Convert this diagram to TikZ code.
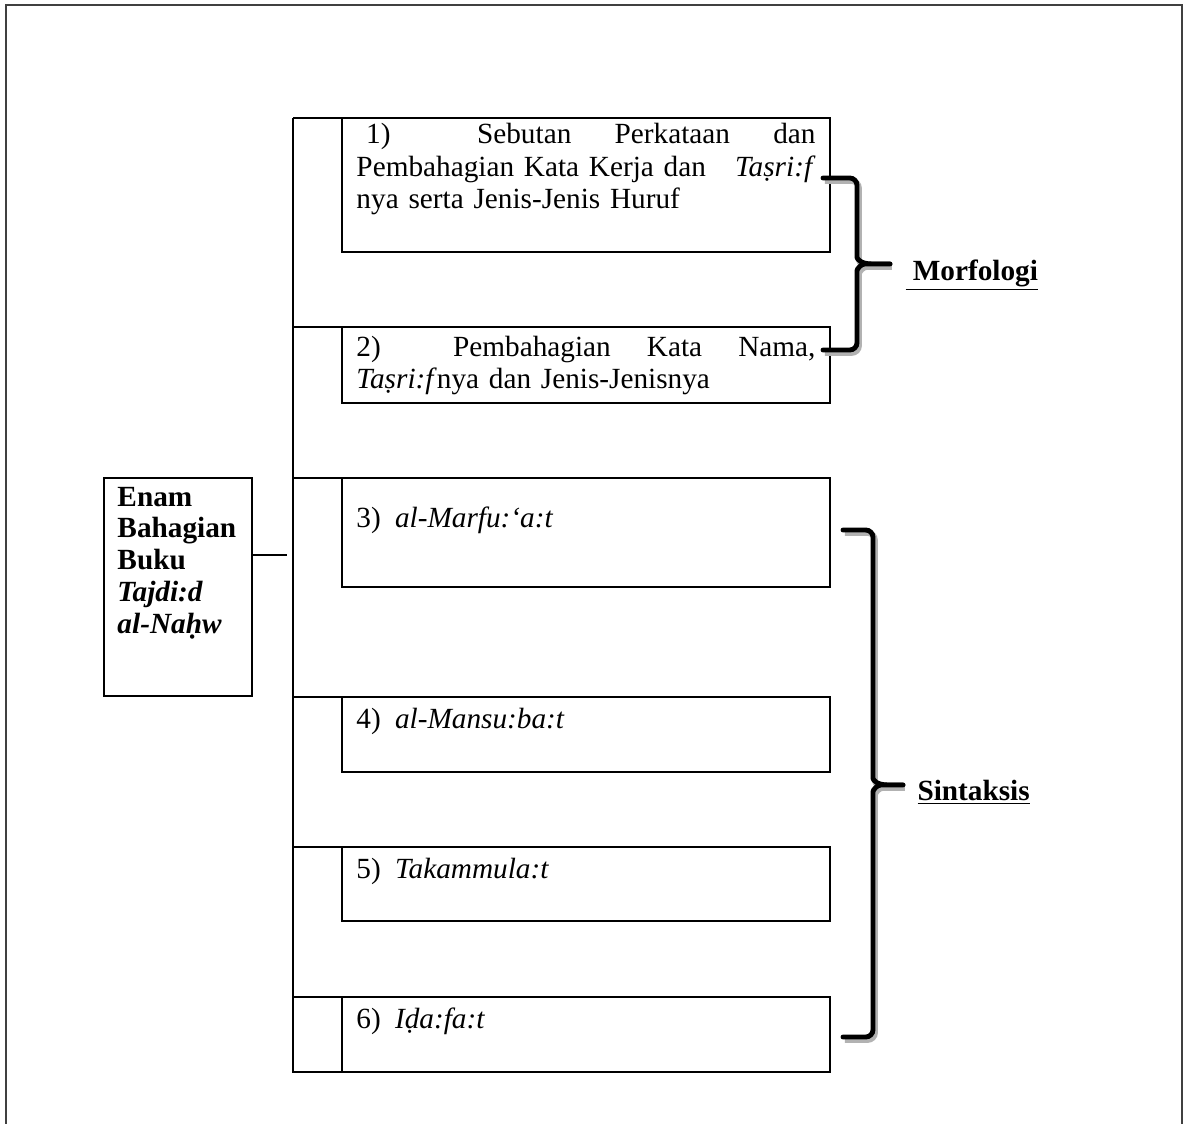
\documentclass[tikz,border=0pt]{standalone}
\usepackage{fontspec}
\setmainfont{Liberation Serif}
\newcommand{\pxu}{0.41pt}
\tikzset{
  partbox/.style={draw, line width=0.8pt, anchor=north west, inner sep=0pt, outer sep=0pt, minimum width=488*\pxu},
  parttext/.style={anchor=base west, inner sep=0pt, text width=459*\pxu, align=left, font=\fontsize{12}{13.3}\selectfont},
  grouplabel/.style={anchor=base west, inner sep=0pt, font=\fontsize{12}{13.3}\selectfont},
  curlybrace/.style={line width=2pt, line cap=round, rounded corners=3pt,
    preaction={draw, black!30, line width=2.4pt, transform canvas={shift={(0.8pt,-1.2pt)}}}},
}
\begin{document}
\begin{tikzpicture}[x=\pxu, y=-\pxu]
    \useasboundingbox (0,0) rectangle (1184,1124);
    \draw[line width=0.6pt, black!75] (6,1124) -- (6,5) -- (1182,5) -- (1182,1124);

    % the six parts
    \node[partbox, minimum height=134*\pxu] (p1) at (342,118){};
    \node[partbox, minimum height=76*\pxu] (p2) at (342,327){};
    \node[partbox, minimum height=109*\pxu] (p3) at (342,478){};
    \node[partbox, minimum height=75*\pxu] (p4) at (342,697){};
    \node[partbox, minimum height=74*\pxu] (p5) at (342,847){};
    \node[partbox, minimum height=75*\pxu] (p6) at (342,997){};
    \node[parttext] (t1) at (356,144){\ 1)\hfill\hfill Sebutan\hfill Perkataan\hfill dan\\
      Pembahagian Kata Kerja dan\hfill \textit{Taṣri:f}\\
      nya serta Jenis-Jenis Huruf};
    \node[parttext] (t2) at (356,356){2)\hfill\hfill Pembahagian\hfill Kata\hfill Nama,\\
      \textit{Taṣri:f}nya dan Jenis-Jenisnya};
    \node[parttext] (t3) at (356,527){\makebox[15.8pt][l]{3)}\textit{al-Marfu:‘a:t}};
    \node[parttext] (t4) at (356,728){\makebox[15.8pt][l]{4)}\textit{al-Mansu:ba:t}};
    \node[parttext] (t5) at (356,878){\makebox[15.8pt][l]{5)}\textit{Takammula:t}};
    \node[parttext] (t6) at (356,1028){\makebox[15.8pt][l]{6)}\textit{Iḍa:fa:t}};

    % trunk
    \coordinate (top) at (293,118);
    \coordinate (bottom) at (293,1072);
    \draw[line width=0.8pt] (top) -- (bottom) -- (bottom -| p6.south west);
    \foreach \p in {p1,p2,p3,p4,p5,p6}
      \draw[line width=0.8pt] (\p.north west) -- (\p.north west -| top);

    % book
    \node[partbox, minimum width=148*\pxu, minimum height=218*\pxu] (root) at (104,478){};
    \node[parttext, text width=130*\pxu, font=\fontsize{12}{13.1}\selectfont\bfseries] (roottext) at (117,506){Enam\\
      Bahagian\\
      Buku\\
      \textit{Tajdi:d}\\
      \textit{al-Naḥw}};
    \coordinate (joint) at (287,555);
    \draw[line width=0.8pt] (joint -| root.east) -- (joint);

    % groups
    \node[grouplabel] (morf) at (905,280){\underline{\textbf{\ Morfologi}}};
    \node[grouplabel] (sint) at (917,800){\underline{\textbf{Sintaksis}}};
    \draw[curlybrace] (823,178) -- (857,178) -- (857,250) [sharp corners] .. controls (857,259) and (861,264) .. (872,264) -- (890,264);
    \draw[curlybrace] (890,264) -- (872,264) .. controls (861,264) and (857,269) .. (857,278) [rounded corners=3pt] -- (857,350) -- (823,350);
    \draw[curlybrace] (843,530) -- (873,530) -- (873,771) [sharp corners] .. controls (873,780) and (877,785) .. (888,785) -- (903,785);
    \draw[curlybrace] (903,785) -- (888,785) .. controls (877,785) and (873,790) .. (873,799) [rounded corners=3pt] -- (873,1037) -- (843,1037);
\end{tikzpicture}
\end{document}
